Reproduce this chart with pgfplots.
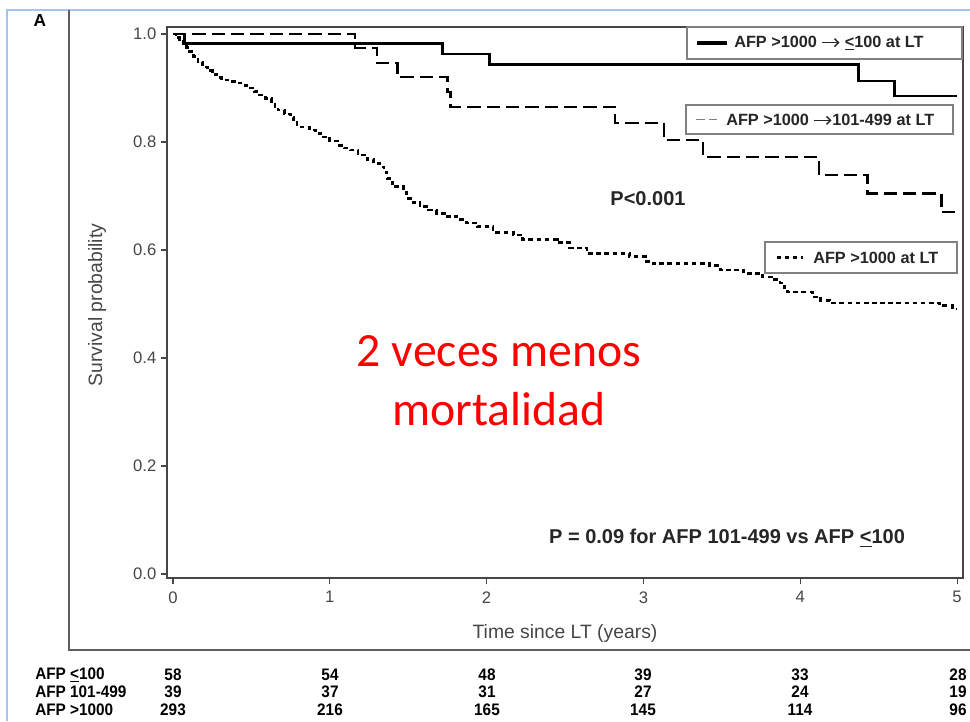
\documentclass[border=0pt]{standalone}
\usepackage{fontspec}
\setmainfont{Liberation Sans}
\newfontfamily\narrowfont[FakeStretch=0.92]{Liberation Sans}
\newfontfamily\calfont{Carlito}
\usepackage{pgfplots}
\usetikzlibrary{arrows.meta}
\pgfplotsset{compat=1.18}
\definecolor{axgray}{RGB}{70,70,70}
\definecolor{framegray}{RGB}{95,95,95}
\definecolor{blueframe}{RGB}{165,195,235}
\newcommand{\arr}{\tikz[baseline=-0.55ex]\draw[black!85,line width=1.1pt,-{Straight Barb[length=3pt,width=6pt]}](0,0)--(13pt,0);}
\begin{document}
\begin{tikzpicture}[x=0.75pt,y=0.75pt]
\useasboundingbox (0,0) rectangle (970,721);
\fill[white] (0,0) rectangle (970,721);
% frames
\draw[blueframe,line width=1.2pt] (7,0) -- (7,711) -- (975,711);
\draw[framegray,line width=1.2pt] (69,711) -- (69,71) -- (975,71);
\begin{axis}[
  at={(125.25pt,107.25pt)}, anchor=south west,
  scale only axis, width=597pt, height=413.25pt,
  xmin=-0.0383, xmax=5.038, ymin=-0.0074, ymax=1.013,
  xtick={0,1,2,3,4,5}, ytick={0,0.2,0.4,0.6,0.8,1.0},
  yticklabel style={/pgf/number format/fixed,/pgf/number format/fixed zerofill,/pgf/number format/precision=1},
  /pgf/number format/assume math mode=true,
  tick align=outside, major tick length=4.5pt,
  xtick pos=bottom, ytick pos=left,
  tick style={axgray,line width=0.8pt},
  axis line style={axgray,line width=1.1pt},
  ticklabel style={font=\fontsize{12.5}{14}\selectfont, text=axgray},
  xticklabel style={yshift=-2pt},
  clip=false,
]
% AFP >1000 -> <=100
\addplot[const plot, black, line width=2pt] coordinates {
(0,1.0) (0.075,0.983) (1.72,0.963) (2.02,0.944) (4.37,0.913) (4.60,0.885) (5.0,0.885)};
% AFP >1000 -> 101-499
\addplot[const plot, black, line width=1.9pt, dash pattern=on 10pt off 4.5pt] coordinates {
(0,1.0) (1.16,0.974) (1.30,0.946) (1.43,0.920) (1.75,0.893) (1.77,0.865) (2.82,0.835) (3.13,0.804) (3.38,0.772) (4.12,0.739) (4.43,0.705) (4.90,0.670) (5.0,0.670)};
% AFP >1000 at LT
\addplot[const plot, black, line width=2pt, dash pattern=on 3.5pt off 2.6pt] coordinates {
(0,1.0) (0.02,0.993) (0.04,0.987) (0.064,0.983) (0.085,0.975) (0.105,0.968) (0.13,0.958) (0.16,0.948) (0.19,0.939) (0.22,0.932) (0.25,0.925) (0.28,0.919) (0.31,0.915) (0.36,0.912) (0.41,0.909) (0.45,0.905) (0.49,0.900) (0.52,0.893) (0.55,0.887) (0.59,0.881) (0.63,0.874) (0.65,0.866) (0.67,0.859) (0.71,0.852) (0.75,0.846) (0.77,0.837) (0.79,0.828) (0.87,0.822) (0.91,0.816) (0.96,0.809) (1.00,0.802) (1.05,0.794) (1.09,0.789) (1.13,0.785) (1.18,0.776) (1.24,0.767) (1.28,0.760) (1.32,0.754) (1.345,0.744) (1.365,0.732) (1.38,0.725) (1.40,0.717) (1.47,0.707) (1.49,0.696) (1.53,0.688) (1.575,0.680) (1.63,0.674) (1.68,0.668) (1.75,0.662) (1.81,0.656) (1.87,0.650) (1.94,0.643) (2.04,0.633) (2.17,0.628) (2.23,0.619) (2.45,0.614) (2.53,0.604) (2.64,0.594) (2.91,0.588) (3.02,0.579) (3.06,0.575) (3.42,0.571) (3.49,0.563) (3.64,0.557) (3.76,0.550) (3.82,0.545) (3.87,0.539) (3.90,0.530) (3.92,0.522) (4.08,0.513) (4.13,0.507) (4.19,0.502) (4.89,0.497) (4.97,0.491) (5.0,0.491)};
\end{axis}
% legends
\begin{scope}[every node/.style={font=\bfseries\fontsize{12.2}{14}\selectfont, text=black!85, anchor=west, inner sep=0pt}]
\draw[gray, line width=1pt, fill=white] (687,694) rectangle (962,662);
\draw[black, line width=2.3pt] (697,678) -- (727,678);
\node at (734,678) {AFP >1000 \arr{} \underline{<}100 at LT};
\draw[gray, line width=1pt, fill=white] (686,616) rectangle (953,587);
\draw[gray, line width=1pt, dash pattern=on 6.5pt off 3pt] (696,601.5) -- (721,601.5);
\node at (726,601.5) {AFP >1000 \arr{}101-499 at LT};
\draw[gray, line width=1pt, fill=white] (765,479) rectangle (957,448);
\draw[black, line width=1.6pt, dash pattern=on 3pt off 3pt] (777,463.5) -- (803,463.5);
\node at (813,463.5) {AFP >1000 at LT};
\end{scope}
% annotations
\node[font=\bfseries\fontsize{15}{17}\selectfont, text=black!85] at (648,522) {P<0.001};
\node[font=\bfseries\fontsize{15}{17}\selectfont, text=black!85] at (727,183) {P = 0.09 for AFP 101-499 vs AFP \underline{<}100};
\node[font=\calfont\fontsize{35.8}{44}\selectfont, text=red, align=center] at (499,340) {2 veces menos\\mortalidad};
\node[font=\bfseries\fontsize{13}{15}\selectfont] at (40,700) {A};
% axis labels
\node[font=\fontsize{14.5}{16}\selectfont, text=axgray, rotate=90] at (97,416) {Survival probability};
\node[font=\fontsize{14.5}{16}\selectfont, text=axgray] at (565,88) {Time since LT (years)};
% risk table
\begin{scope}[every node/.style={font=\narrowfont\bfseries\fontsize{12.5}{14}\selectfont, inner sep=0pt}]
\node[anchor=west] at (35,46) {AFP \underline{<}100};
\node[anchor=west] at (35,29) {AFP 101-499};
\node[anchor=west] at (35,11) {AFP >1000};
\foreach \x/\a/\b/\c in {173/58/39/293, 330/54/37/216, 487/48/31/165, 643/39/27/145, 800/33/24/114, 958/28/19/96} {
  \node at (\x,46) {\a};
  \node at (\x,29) {\b};
  \node at (\x,11) {\c};
}
\end{scope}
\end{tikzpicture}
\end{document}
